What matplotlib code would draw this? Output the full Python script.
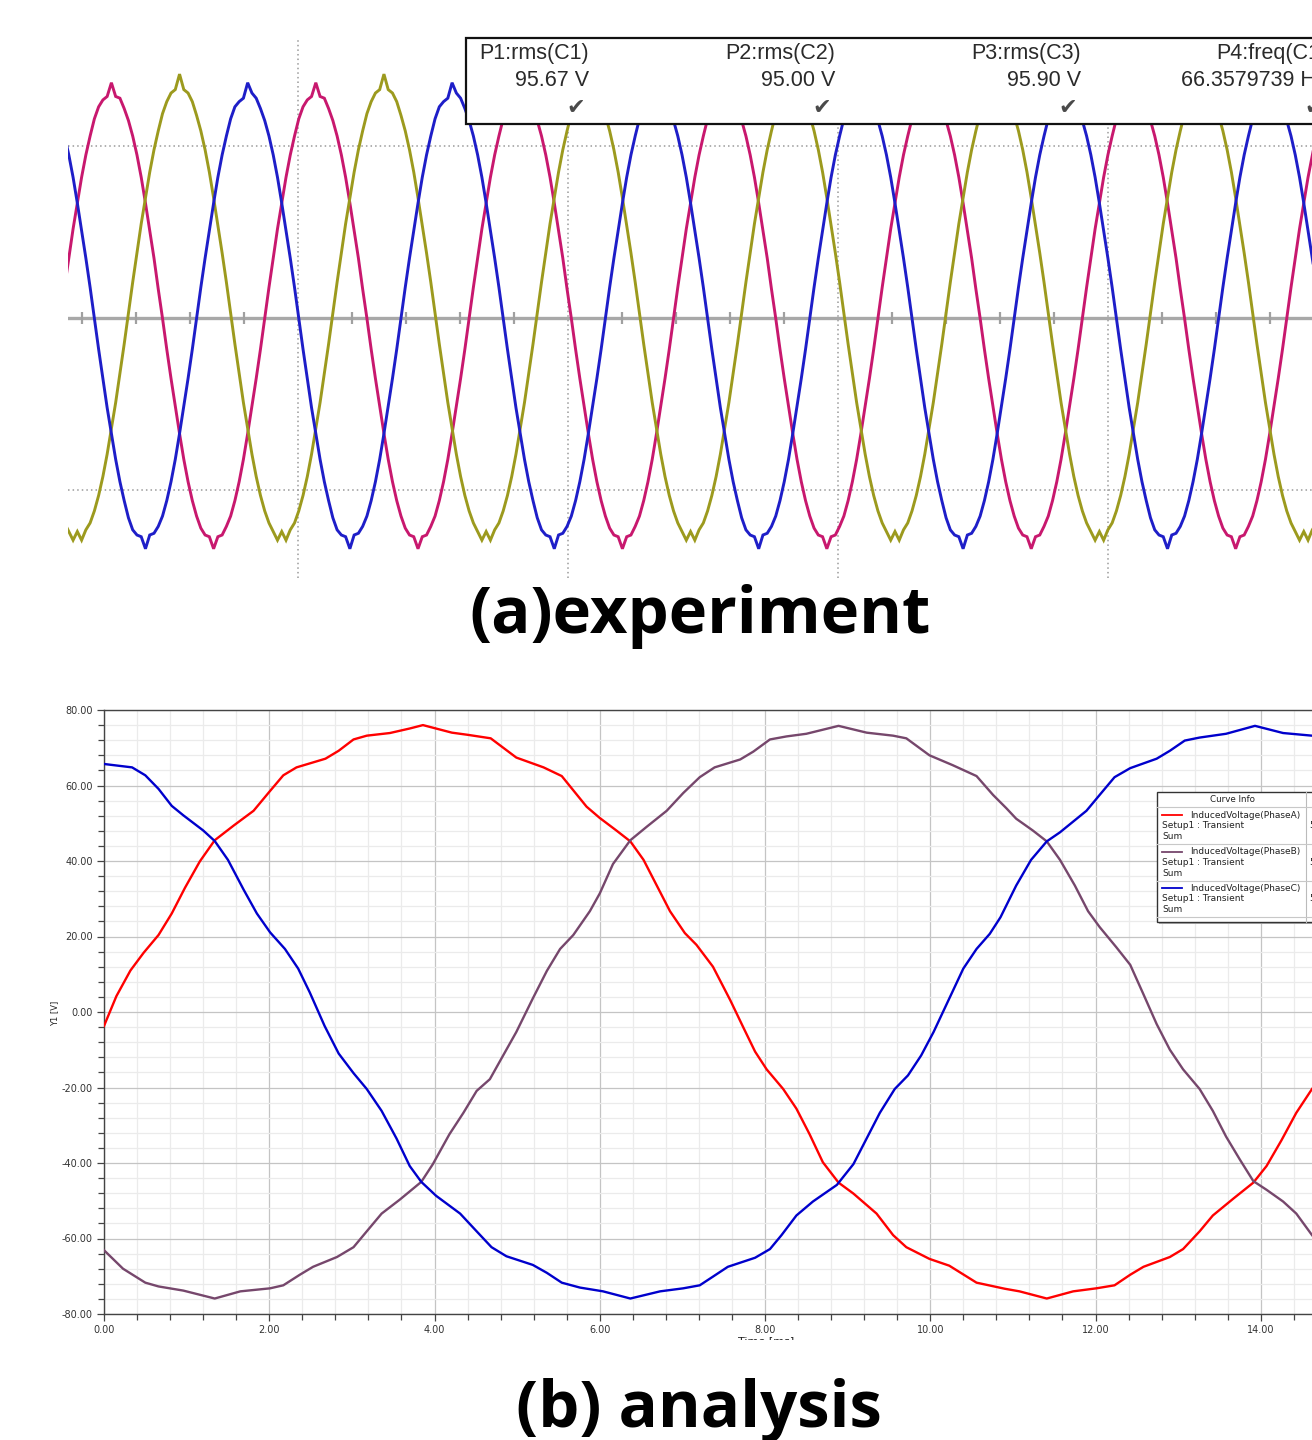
import numpy as np
import matplotlib
matplotlib.use("Agg")
import matplotlib.pyplot as plt
from matplotlib.patches import Rectangle
from matplotlib.ticker import MultipleLocator, FormatStrFormatter

W, H = 1312, 1440

# ---------------- (a) oscilloscope capture ----------------
SCOPE_PERIOD_MS = 15.14
SCOPE_T0_MS = 2.39               # first rising zero crossing of C1
SCOPE_LAG = [0.0, 1 / 3, 2 / 3]  # phase lag of C1, C2, C3 (in periods)
# one cycle per channel, 48 samples from the rising zero crossing (V)
CYCLE_C1 = [0, 18, 35, 52, 67, 82, 95, 106, 116, 123, 127, 129,
            137, 129, 128, 122, 115, 106, 95, 82, 67, 51, 35, 17,
            0, -18, -35, -51, -67, -82, -95, -106, -115, -122, -126, -127,
            -134, -127, -126, -121, -115, -106, -95, -82, -67, -51, -35, -18]
CYCLE_C2 = [3, 21, 38, 55, 70, 85, 98, 109, 119, 126, 131, 133,
            142, 133, 131, 126, 118, 109, 98, 85, 70, 54, 38, 21,
            3, -15, -32, -49, -64, -79, -92, -103, -112, -119, -124, -129,
            -124, -129, -123, -119, -112, -103, -92, -79, -64, -49, -32, -15]
CYCLE_C3 = [0, 18, 35, 51, 67, 82, 95, 106, 116, 123, 126, 128,
            137, 131, 128, 122, 115, 106, 95, 82, 67, 51, 35, 18,
            0, -18, -35, -52, -67, -82, -95, -106, -116, -123, -126, -127,
            -134, -126, -125, -121, -115, -106, -95, -82, -67, -51, -35, -18]
SCOPE_XLIM = (2.96, 95.1)
SCOPE_YLIM = (-151.0, 163.0)
SCOPE_VGRID = [20, 40, 60, 80]
SCOPE_HGRID = [-100, 100]
SCOPE_TICKS = [4, 8, 12, 16, 24, 28, 32, 36, 44, 48, 52, 56,
               64, 68, 72, 76, 84, 88, 92]
MEAS_LABELS = ["P1:rms(C1)", "P2:rms(C2)", "P3:rms(C3)", "P4:freq(C1)"]
MEAS_VALUES = ["95.67 V", "95.00 V", "95.90 V", "66.3579739 Hz"]

C_C1, C_C2, C_C3 = "#C8186E", "#9C9A1E", "#1E1EC8"

# ---------------- (b) FEA induced voltage ----------------
T_A = [0, 0.15, 0.32, 0.48, 0.66, 0.82, 0.98, 1.16, 1.34, 1.57,
       1.81, 2.0, 2.17, 2.33, 2.68, 2.84, 3.02, 3.18, 3.46, 3.70,
       3.86, 4.21, 4.41, 4.68, 4.99, 5.32, 5.54, 5.84, 6.0, 6.2,
       6.37, 6.53, 6.69, 6.85, 7.03, 7.17, 7.37, 7.58, 7.74, 7.88,
       8.02, 8.22, 8.38, 8.54, 8.70, 8.89, 9.07, 9.35, 9.55, 9.71,
       9.99, 10.23, 10.56, 10.90, 11.08, 11.41, 11.73, 12.01, 12.23, 12.42,
       12.58, 12.90, 13.06, 13.26, 13.42, 13.67, 13.91, 14.07, 14.25, 14.43,
       14.62]
V_A = [-3.7, 4.2, 11.0, 15.7, 20.4, 26.1, 32.9, 39.9, 45.5, 49.4,
       53.3, 58.3, 62.7, 64.8, 67.1, 69.2, 72.2, 73.2, 73.9, 75.1,
       76.0, 74.0, 73.4, 72.5, 67.4, 64.8, 62.5, 54.4, 51.4, 48.1,
       45.2, 40.3, 33.5, 26.7, 20.9, 17.8, 12.0, 3.1, -4.2, -10.5,
       -15.2, -20.4, -25.6, -32.4, -39.8, -45.2, -48.1, -53.4, -59.1, -62.3,
       -65.4, -67.2, -71.7, -73.3, -74.0, -75.9, -74.0, -73.2, -72.4, -69.6,
       -67.5, -64.9, -62.8, -58.1, -53.9, -49.4, -45.2, -40.8, -34.0, -26.7,
       -20.4]
T_B = [0, 0.23, 0.50, 0.66, 0.96, 1.34, 1.65, 2.01, 2.17, 2.37,
       2.53, 2.82, 3.02, 3.18, 3.36, 3.58, 3.84, 3.98, 4.18, 4.35,
       4.51, 4.67, 4.79, 4.99, 5.19, 5.36, 5.52, 5.68, 5.88, 6.0,
       6.16, 6.37, 6.57, 6.81, 7.01, 7.21, 7.39, 7.70, 7.86, 8.06,
       8.26, 8.50, 8.89, 9.23, 9.55, 9.71, 9.99, 10.27, 10.56, 10.76,
       10.92, 11.04, 11.24, 11.41, 11.57, 11.75, 11.91, 12.05, 12.25, 12.42,
       12.58, 12.74, 12.90, 13.06, 13.26, 13.42, 13.58, 13.75, 13.91, 14.07,
       14.27, 14.43, 14.62]
V_B = [-63.1, -68.0, -71.7, -72.7, -73.8, -75.9, -74.0, -73.2, -72.4, -69.6,
       -67.5, -64.9, -62.3, -58.1, -53.4, -49.7, -45.0, -40.3, -32.4, -26.7,
       -20.9, -17.8, -13.1, -5.3, 3.6, 10.9, 16.7, 20.4, 26.7, 31.4,
       39.2, 45.5, 49.1, 53.3, 58.0, 62.2, 64.8, 66.9, 69.0, 72.2,
       73.0, 73.7, 75.8, 74.0, 73.2, 72.5, 68.0, 65.4, 62.5, 57.5,
       54.0, 51.2, 48.1, 45.2, 40.3, 33.5, 26.7, 22.5, 17.2, 12.5,
       4.7, -3.2, -10.0, -15.2, -20.4, -26.2, -33.0, -39.2, -44.8, -47.1,
       -50.2, -53.4, -59.1]
T_C = [0, 0.34, 0.50, 0.66, 0.82, 0.96, 1.20, 1.34, 1.50, 1.69,
       1.85, 2.01, 2.19, 2.35, 2.49, 2.67, 2.84, 3.02, 3.18, 3.36,
       3.54, 3.70, 3.84, 4.02, 4.31, 4.51, 4.69, 4.87, 5.19, 5.36,
       5.54, 5.76, 6.04, 6.37, 6.73, 7.01, 7.21, 7.37, 7.55, 7.88,
       8.06, 8.20, 8.38, 8.58, 8.87, 9.07, 9.23, 9.39, 9.57, 9.73,
       9.89, 10.04, 10.22, 10.40, 10.56, 10.72, 10.85, 11.04, 11.22, 11.41,
       11.57, 11.89, 12.05, 12.23, 12.42, 12.74, 12.90, 13.08, 13.26, 13.58,
       13.93, 14.27, 14.62]
V_C = [65.7, 64.8, 62.7, 59.1, 54.6, 52.1, 48.1, 45.3, 40.3, 32.4,
       26.1, 21.1, 16.7, 11.5, 5.2, -3.7, -11.0, -16.2, -20.4, -26.2,
       -33.5, -40.8, -45.0, -48.7, -53.4, -58.1, -62.3, -64.7, -67.0, -69.1,
       -71.7, -73.0, -74.0, -75.9, -74.0, -73.2, -72.4, -70.1, -67.5, -65.1,
       -62.8, -59.1, -53.9, -50.2, -45.8, -40.3, -33.5, -26.7, -20.4, -16.8,
       -11.5, -5.3, 3.1, 11.5, 16.7, 20.7, 25.1, 33.5, 40.3, 45.2,
       47.6, 53.3, 57.5, 62.2, 64.6, 67.1, 69.2, 71.9, 72.7, 73.7,
       75.8, 73.9, 73.2]
FEA_NAMES = ["InducedVoltage(PhaseA)", "InducedVoltage(PhaseB)",
             "InducedVoltage(PhaseC)"]
FEA_COLORS = ["#FF0000", "#76476C", "#0000CC"]
FEA_XLIM = (0.0, 14.62)
FEA_YLIM = (-80.0, 80.0)


def px(x0, y0, x1, y1):
    """pixel box -> figure fraction [l, b, w, h]"""
    return [x0 / W, 1 - y1 / H, (x1 - x0) / W, (y1 - y0) / H]


fig = plt.figure(figsize=(W / 100, H / 100), dpi=100)
fig.patch.set_facecolor("white")

# ----- panel (a) -----
axA = fig.add_axes(px(68, 38, 1312, 578))
axA.set_xlim(*SCOPE_XLIM); axA.set_ylim(*SCOPE_YLIM)
axA.axis("off")
for g in SCOPE_VGRID:
    axA.axvline(g, color="#9A9A9A", lw=1.1, ls=(0, (1, 2)), zorder=1)
for g in SCOPE_HGRID:
    axA.axhline(g, color="#9A9A9A", lw=1.1, ls=(0, (1, 2)), zorder=1)
axA.axhline(0, color="#A8A8A8", lw=2.4, zorder=1)
axA.vlines(SCOPE_TICKS, -3.5, 3.5, color="#A0A0A0", lw=1.6, zorder=1)

n_cyc = int(np.ceil((SCOPE_XLIM[1] - SCOPE_T0_MS) / SCOPE_PERIOD_MS)) + 2
for cyc, lag, col in zip([CYCLE_C1, CYCLE_C2, CYCLE_C3], SCOPE_LAG,
                         [C_C1, C_C2, C_C3]):
    n = len(cyc)
    t = SCOPE_T0_MS + (lag - 1) * SCOPE_PERIOD_MS \
        + np.arange(n * n_cyc) * SCOPE_PERIOD_MS / n
    axA.plot(t, np.tile(cyc, n_cyc), color=col, lw=2.1, zorder=3,
             solid_joinstyle="miter")

# ----- panel (b) -----
axB = fig.add_axes(px(104, 710, 1312, 1314))
axB.set_xlim(*FEA_XLIM); axB.set_ylim(*FEA_YLIM)
axB.xaxis.set_major_locator(MultipleLocator(2))
axB.xaxis.set_minor_locator(MultipleLocator(0.4))
axB.yaxis.set_major_locator(MultipleLocator(20))
axB.yaxis.set_minor_locator(MultipleLocator(4))
axB.xaxis.set_major_formatter(FormatStrFormatter("%.2f"))
axB.yaxis.set_major_formatter(FormatStrFormatter("%.2f"))
axB.grid(which="minor", color="#EBEBEB", lw=0.9)
axB.grid(which="major", color="#C4C4C4", lw=0.9)
axB.set_axisbelow(True)
axB.tick_params(which="major", length=5, width=0.9, color="#444444",
                labelsize=7, labelcolor="#333333", pad=3)
axB.tick_params(which="minor", length=4, width=0.9, color="#444444")
for s in ["left", "bottom", "top"]:
    axB.spines[s].set_color("#444444"); axB.spines[s].set_linewidth(1.0)
axB.spines["right"].set_visible(False)
for tt, vv, col in zip([T_A, T_B, T_C], [V_A, V_B, V_C], FEA_COLORS):
    axB.plot(tt, vv, color=col, lw=1.7, zorder=3)

# ----- overlay in pixel coordinates -----
ov = fig.add_axes([0, 0, 1, 1], zorder=10)
ov.set_xlim(0, W); ov.set_ylim(H, 0); ov.axis("off")
ov.patch.set_alpha(0)

# scope measurement box
ov.add_patch(Rectangle((466, 38), 900, 86, facecolor="white",
                       edgecolor="#111111", lw=1.6))
for i, (lab, val) in enumerate(zip(MEAS_LABELS, MEAS_VALUES)):
    xr = 589 + 246 * i
    ov.text(xr, 53, lab, ha="right", va="center", fontsize=15.5,
            family="Liberation Sans", color="#2a2a2a")
    ov.text(xr, 81, val, ha="right", va="center", fontsize=15.5,
            family="Liberation Sans", color="#2a2a2a")
    ov.text(xr - 13, 108, "\u2714", ha="center", va="center", fontsize=16,
            family="DejaVu Sans", color="#4a4a4a")

# FEA curve info box
ov.add_patch(Rectangle((1159, 794), 160, 130, facecolor="#B0B0B0",
                       edgecolor="none"))
ov.add_patch(Rectangle((1157, 792), 160, 130, facecolor="white",
                       edgecolor="#333333", lw=1.0))
ov.text(1232, 800, "Curve Info", ha="center", va="center", fontsize=6.3,
        color="#222222")
ov.plot([1306, 1306], [792, 922], color="#BBBBBB", lw=0.8)
for yy in [807, 844, 881, 917]:
    ov.plot([1157, 1312], [yy, yy], color="#C8C8C8", lw=0.8)
for i, (name, col) in enumerate(zip(FEA_NAMES, FEA_COLORS)):
    y0 = 815 + 36.7 * i
    ov.plot([1162, 1182], [y0, y0], color=col, lw=1.3)
    ov.text(1190, y0, name, ha="left", va="center", fontsize=6.5,
            color="#222222")
    ov.text(1162, y0 + 10.5, "Setup1 : Transient", ha="left", va="center",
            fontsize=6.5, color="#222222")
    ov.text(1162, y0 + 21.5, "Sum", ha="left", va="center", fontsize=6.5,
            color="#222222")
    ov.text(1309, y0 + 10.5, "5", ha="left", va="center", fontsize=6.5,
            color="#222222")

# axis labels of the FEA plot (x label is cut by the crop)
ov.text(55, 1013, "Y1 [V]", rotation=90, ha="center", va="center",
        fontsize=6, color="#222222")
ov.text(766, 1336, "Time [ms]", ha="center", va="top", fontsize=8,
        color="#222222")
ov.add_patch(Rectangle((600, 1340), 400, 25, facecolor="white",
                       edgecolor="none", zorder=5))

# captions
ov.text(700, 633, "(a)experiment", ha="center", va="baseline",
        fontsize=47, fontweight="bold", family="Open Sans", color="black")
ov.text(699, 1427, "(b) analysis", ha="center", va="baseline",
        fontsize=47, fontweight="bold", family="Open Sans", color="black",
        zorder=6)

fig.savefig("out.png", dpi=100, facecolor="white")
